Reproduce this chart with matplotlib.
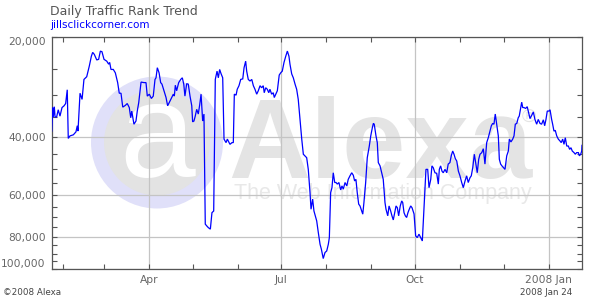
import datetime as dt
import numpy as np
import matplotlib
matplotlib.use("Agg")
import matplotlib.pyplot as plt
import matplotlib.dates as mdates
from matplotlib.patches import Circle
from matplotlib.transforms import IdentityTransform
from matplotlib.ticker import FixedLocator, FixedFormatter, NullFormatter

# ---------------- data ----------------
start_date = "2007-01-24"
end_date = "2008-01-24"

day_offset = [
    0.0, 0.7, 1.1, 1.8, 2.3, 3.4, 4.5, 5.7, 7.1, 8.5, 9.6, 10.7, 11.4, 12.6, 14.9, 16.7, 17.6, 18.1,
    19.5, 20.9, 22.2, 24.1, 25.9, 27.3, 28.2, 29.3, 31.0, 32.3, 33.5, 34.6, 36.0, 37.9, 39.2, 39.9,
    40.8, 42.4, 43.8, 45.4, 46.5, 47.7, 48.9, 50.7, 52.0, 53.4, 54.4, 55.1, 56.6, 58.0, 58.9, 59.9,
    61.5, 63.5, 64.9, 65.8, 67.2, 68.6, 69.9, 71.1, 71.8, 72.7, 73.9, 75.0, 75.9, 77.3, 78.7, 79.8,
    80.9, 82.6, 83.7, 84.4, 85.1, 86.0, 87.4, 88.8, 89.9, 90.9, 91.7, 92.9, 94.0, 95.2, 96.4, 97.0,
    97.9, 98.8, 99.8, 100.9, 101.9, 102.8, 103.4, 103.9, 104.8, 105.7, 106.7, 107.8, 109.2, 110.3,
    111.5, 112.6, 113.8, 114.7, 115.6, 116.5, 117.7, 118.6, 120.0, 120.9, 122.7, 124.1, 125.0, 125.7,
    126.9, 127.7, 128.9, 130.1, 131.5, 132.4, 133.5, 134.2, 135.3, 136.5, 137.7, 138.8, 139.9, 141.1,
    142.2, 143.4, 144.5, 145.6, 146.3, 147.3, 148.4, 149.4, 150.2, 151.4, 152.5, 153.2, 154.2, 155.3,
    156.6, 157.6, 158.7, 159.9, 161.1, 162.2, 163.3, 164.0, 165.2, 166.3, 167.5, 168.6, 169.7, 170.9,
    172.1, 173.2, 174.3, 175.5, 176.6, 177.8, 178.5, 179.6, 180.5, 181.4, 182.4, 183.5, 184.7, 185.6,
    186.9, 188.1, 189.3, 190.4, 191.1, 192.0, 192.9, 193.8, 194.8, 195.7, 196.6, 197.7, 198.9, 199.8,
    200.7, 201.9, 203.1, 204.1, 205.3, 206.5, 207.6, 208.5, 209.4, 210.3, 211.3, 212.2, 213.4, 214.1,
    214.9, 216.1, 217.2, 218.6, 219.6, 220.7, 221.4, 222.0, 223.2, 224.1, 224.8, 226.0, 227.1, 228.2,
    229.4, 230.1, 231.3, 232.2, 233.3, 234.2, 235.1, 236.1, 237.0, 237.9, 238.8, 239.9, 240.9, 241.6,
    242.5, 243.4, 244.3, 245.2, 246.1, 247.1, 248.0, 249.4, 250.5, 251.6, 252.8, 254.0, 255.1, 255.8,
    256.7, 257.6, 258.8, 259.7, 260.9, 261.7, 262.6, 263.8, 265.0, 266.1, 266.8, 267.7, 268.6, 269.5,
    270.7, 271.9, 272.9, 274.1, 275.0, 276.0, 276.9, 277.8, 278.8, 279.9, 281.0, 282.2, 283.3, 284.5,
    285.6, 286.7, 287.9, 288.8, 289.8, 290.9, 291.8, 292.9, 293.9, 294.8, 296.0, 297.1, 298.2, 299.4,
    300.5, 301.7, 302.6, 303.5, 304.4, 305.3, 306.3, 307.4, 308.1, 309.0, 309.9, 312.0, 313.2, 314.3,
    315.0, 316.1, 317.3, 318.2, 319.1, 320.1, 321.1, 321.8, 322.8, 323.5, 324.2, 325.1, 326.2, 327.3,
    328.3, 329.2, 330.4, 331.5, 332.6, 333.8, 334.9, 336.1, 337.2, 338.4, 339.3, 340.2, 341.1, 342.3,
    343.0, 344.1, 344.8, 345.7, 346.6, 347.6, 348.7, 349.8, 350.7, 351.7, 352.6, 353.5, 354.5, 355.6,
    356.5, 357.4, 358.3, 359.5, 360.4, 361.3, 362.5, 363.2, 364.1, 364.8, 365.0,
]

rank = [
    38500, 32700, 34900, 32500, 34900, 34900, 33200, 34700, 32700, 32300, 31800, 28900, 40500, 39800, 39500, 38700, 37100, 38500,
    29600, 30900, 26900, 26400, 24500, 22900, 22300, 22600, 23500, 23400, 22100, 22200, 23400, 23700, 24200, 23900,
    25100, 25100, 25700, 27500, 29600, 29600, 32600, 32200, 31800, 32700, 35100, 33500, 36700, 35900, 33500, 31600,
    27400, 27500, 27500, 30200, 29800, 30700, 30200, 26900, 26600, 24800, 25700, 27500, 27800, 29100, 30500, 32300,
    31600, 30500, 29800, 30200, 28000, 29100, 27500, 26900, 26600, 27800, 30200, 27700, 27800, 30200, 32300, 36100,
    35900, 34700, 33100, 34200, 32000, 29800, 33100, 35900, 34200, 73400, 74300, 75200, 76000, 67800,
    67000, 26900, 25400, 26600, 25100, 25800, 26600, 40700, 41700, 40700, 42200, 41700, 41700, 29800,
    30000, 28800, 28100, 26900, 26800, 24800, 23700, 25400, 26900, 27200, 26900, 28100, 28800, 29800,
    29100, 28100, 28500, 28100, 29500, 28500, 28800, 29500, 28800, 29800, 29500, 30500, 29800, 29100,
    26100, 25700, 25400, 23900, 22900, 22100, 22900, 24200, 25900, 26600, 27800, 28800, 30900, 35500,
    40700, 45200, 45700, 46300, 50200, 59000, 66200, 61700, 67000, 69300, 71800, 77800, 84400, 87300,
    93200, 89400, 88400, 84400, 80600, 59000, 57000, 51400, 55000, 55000, 55600, 55000, 57900, 56300,
    57600, 55000, 56300, 53800, 52500, 51400, 52300, 54400, 53800, 59000, 63900, 64700, 67000, 68500,
    63200, 55000, 46300, 42700, 39800, 37600, 36500, 36700, 39800, 41700, 47900, 49000, 51400, 53800,
    63200, 66200, 69300, 64700, 67000, 69300, 71300, 67800, 64700, 65500, 69300, 64700, 62500, 63200,
    67800, 69300, 70100, 67800, 66200, 64700, 65500, 68400, 79600, 80600, 78700, 80600, 82500, 71800,
    60400, 50200, 50200, 57000, 53800, 49000, 49600, 51400, 51600, 55600, 50200, 49000, 50800, 51400,
    50200, 51400, 48400, 47900, 45700, 44200, 45200, 46600, 47400, 50800, 52500, 55000, 57000, 54400,
    52500, 55000, 53200, 52500, 49600, 45200, 47900, 51400, 46800, 45200, 44700, 43500, 48400, 41700,
    40300, 38500, 37100, 36500, 36700, 34200, 36700, 39800, 46800, 48400, 49000, 50200, 45700, 44200,
    40700, 41500, 40700, 39800, 36700, 36500, 35100, 34700, 32700, 31500, 32700, 32700, 32900, 32500,
    33900, 35300, 34500, 33700, 35500, 36700, 35500, 36500, 36700, 35600, 37100, 35500, 33500, 33500,
    33200, 35500, 36700, 38500, 38300, 39800, 40700, 41200, 41700, 40700, 42200, 40300, 42700, 42700,
    43700, 43200, 44200, 44700, 45200, 44700, 44700, 45700, 45200, 44200, 42500,
]

x_label_dates = ["2007-04-01", "2007-07-01", "2007-10-01", "2008-01-01"]
x_labels = ["Apr", "Jul", "Oct", "2008 Jan"]
x_minor_dates = ["2007-02-01", "2007-03-01", "2007-05-01", "2007-06-01",
                 "2007-08-01", "2007-09-01", "2007-11-01", "2007-12-01"]
y_major = [20000, 40000, 60000, 80000, 100000]
y_labels = ["20,000", "40,000", "60,000", "80,000", "100,000"]
y_minor = [25000, 30000, 35000, 45000, 50000, 55000, 65000, 70000, 75000,
           85000, 90000, 95000]

title = "Daily Traffic Rank Trend"
site = "jillsclickcorner.com"
footer_left = "\u00a92008 Alexa"
footer_right = "2008 Jan 24"

# ---------------- figure ----------------
W, H = 610, 300
fig = plt.figure(figsize=(W / 100, H / 100), dpi=100)
fig.patch.set_facecolor("white")

L, R, T, B = 51.7, 582.0, 36.7, 268.7
ax = fig.add_axes([L / W, 1 - B / H, (R - L) / W, (B - T) / H])
ax.set_facecolor("white")

def d2n(s):
    return mdates.date2num(dt.datetime.strptime(s, "%Y-%m-%d"))

x0 = d2n(start_date)
xs = x0 + np.array(day_offset)
ax.plot(xs, rank, color="#0000ff", lw=0.9, zorder=3, solid_joinstyle="miter")

ax.set_yscale("log")
ax.set_ylim(100000, 20000)
ax.set_xlim(x0, d2n(end_date))

ax.xaxis.set_major_locator(FixedLocator([d2n(s) for s in x_label_dates]))
ax.xaxis.set_major_formatter(FixedFormatter(x_labels))
ax.xaxis.set_minor_locator(FixedLocator([d2n(s) for s in x_minor_dates]))
ax.xaxis.set_minor_formatter(NullFormatter())

ax.yaxis.set_major_locator(FixedLocator(y_major))
ax.yaxis.set_major_formatter(FixedFormatter(y_labels))
ax.yaxis.set_minor_locator(FixedLocator(y_minor))
ax.yaxis.set_minor_formatter(NullFormatter())

ax.tick_params(axis="both", which="both", direction="in", length=3.5, width=0.8,
               color="#555555", labelcolor="#666666", labelsize=7.7,
               top=True, right=True)
ax.tick_params(axis="y", pad=4.3)
ax.tick_params(axis="x", pad=4.5)

for sp in ax.spines.values():
    sp.set_color("#555555")
    sp.set_linewidth(0.9)

ax.set_axisbelow(True)
ax.grid(True, which="major", color="#c4c4c4", lw=0.9)

yt = ax.yaxis.get_major_ticks()
yt[0].label1.set_verticalalignment("top")
yt[-1].label1.set_verticalalignment("bottom")

# ---------------- watermark (Alexa logo) ----------------
idt = IdentityTransform()
def px(x, y):
    return (x, H - y)

ax.add_patch(Circle(px(157, 142.5), 66, transform=idt, facecolor="#e0e0f9",
                    edgecolor="none", zorder=0.1))
ax.add_patch(Circle(px(157, 142.5), 53, transform=idt, facecolor="#e3e3e3",
                    edgecolor="none", zorder=0.2))
ax.text(*px(157, 177), "a", transform=idt, ha="center", va="baseline",
        fontsize=98, color="white", family="Liberation Sans", zorder=0.3)
ax.text(*px(228, 178), "Alexa", transform=idt, ha="left", va="baseline",
        fontsize=82, color="#e4e4e4", family="Liberation Sans", weight="bold",
        zorder=0.3)
ax.text(*px(234, 199), "The Web Information Company", transform=idt, ha="left",
        va="baseline", fontsize=15.5, color="#e8e8e8", family="Liberation Sans",
        zorder=0.3)
ax.text(*px(529, 117), "\u00ae", transform=idt, ha="center", va="center",
        fontsize=14, color="#e4e4e4", family="Liberation Sans", zorder=0.3)

# ---------------- texts ----------------
fig.text(50 / W, 1 - 11.5 / H, title, ha="left", va="center", fontsize=9,
         color="#555555")
fig.text(50 / W, 1 - 25 / H, site, ha="left", va="center", fontsize=7.5,
         color="#0000ff")
fig.text(3 / W, 1 - 292.5 / H, footer_left, ha="left", va="center", fontsize=6.3,
         color="#444444")
fig.text(572 / W, 1 - 292.5 / H, footer_right, ha="right", va="center",
         fontsize=6.3, color="#444444")

fig.savefig("out.png", dpi=100)
